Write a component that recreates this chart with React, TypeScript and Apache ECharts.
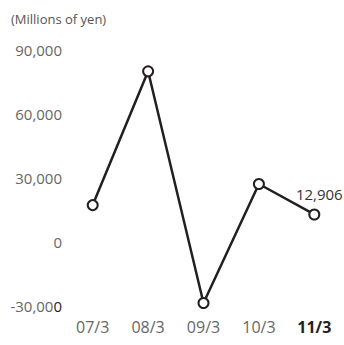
import React, { useEffect, useRef } from "react";
import * as echarts from "echarts";

const categories = ["07/3", "08/3", "09/3", "10/3", "11/3"];
const values = [17300, 80000, -28600, 27200, 12906];
const yTicks = [-30000, 0, 30000, 60000, 90000];
const unitLabel = "(Millions of yen)";

export default function App() {
  const ref = useRef<HTMLDivElement>(null);
  useEffect(() => {
    const chart = echarts.init(ref.current!, null, { renderer: "svg" });
    const font = "'Open Sans', 'Noto Sans', sans-serif";
    chart.setOption({
      animation: false,
      backgroundColor: "#ffffff",
      title: {
        text: unitLabel,
        left: 6,
        top: 7,
        textStyle: { fontSize: 13, fontWeight: "normal", color: "#555", fontFamily: font },
      },
      grid: { left: 65, width: 277, top: 50, height: 256 },
      xAxis: {
        type: "category",
        data: categories,
        boundaryGap: true,
        axisLine: { show: false },
        axisTick: { show: false },
        axisLabel: {
          interval: 0,
          margin: 13,
          fontSize: 16,
          color: "#666",
          fontFamily: font,
          formatter: (v: string, i: number) =>
            i === categories.length - 1 ? `{b|${v}}` : v,
          rich: {
            b: { fontSize: 16, fontWeight: "bold", color: "#231f20", fontFamily: font },
          },
        },
      },
      yAxis: {
        type: "value",
        min: yTicks[0],
        max: yTicks[yTicks.length - 1],
        interval: 30000,
        splitLine: { show: false },
        axisLine: { show: false },
        axisTick: { show: false },
        axisLabel: {
          margin: 3,
          fontSize: 15,
          color: "#666",
          fontFamily: font,
          formatter: (v: number) => {
            const s = v.toLocaleString("en-US");
            if (v < 0) return `${s.slice(0, -1)}{d|${s.slice(-1)}}`;
            return s;
          },
          rich: { d: { fontSize: 15, color: "#231f20", fontFamily: font } },
        },
      },
      series: [
        {
          type: "line",
          data: values,
          symbol: "circle",
          symbolSize: 10,
          lineStyle: { color: "#231f20", width: 2.5 },
          itemStyle: { color: "#ffffff", borderColor: "#231f20", borderWidth: 2 },
          label: {
            show: true,
            formatter: (p: any) =>
              p.dataIndex === values.length - 1 ? p.value.toLocaleString("en-US") : "",
            position: "top",
            offset: [5, -2],
            fontSize: 15,
            color: "#333",
            fontFamily: font,
          },
        },
      ],
    });
    return () => chart.dispose();
  }, []);
  return (
    <div
      ref={ref}
      style={{ position: "fixed", left: 0, top: 0, width: 344, height: 345 }}
    />
  );
}
